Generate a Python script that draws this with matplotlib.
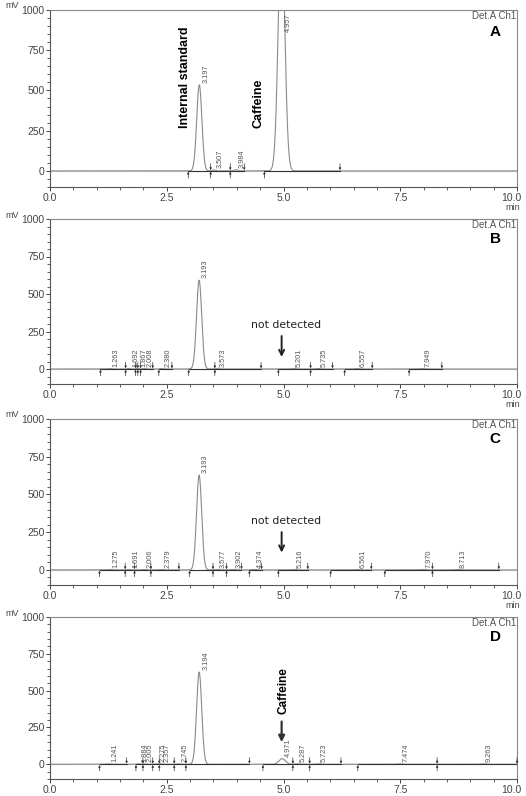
import numpy as np
import matplotlib
matplotlib.use("Agg")
import matplotlib.pyplot as plt
from matplotlib.ticker import MultipleLocator

plt.rcParams['font.family'] = ['Liberation Sans', 'DejaVu Sans']

# ---------------- data (retention time in min, height in mV) ----------------
# Panel A
a_rt = [3.197, 3.507, 3.984, 4.957]
a_h = [535, 6, 8, 1500]
a_w = [0.055, 0.03, 0.03, 0.07]
a_seg_start = [2.96, 3.44, 3.86, 4.59]
a_seg_end = [3.44, 3.86, 4.16, 6.21]

# Panel B
b_rt = [1.263, 1.692, 1.867, 2.008, 2.380, 3.193, 3.573, 5.201, 5.735, 6.557, 7.949]
b_h = [3, 3, 3, 3, 3, 592, 3, 3, 3, 3, 3]
b_w = [0.04, 0.03, 0.03, 0.03, 0.04, 0.055, 0.04, 0.05, 0.05, 0.05, 0.05]
b_seg_start = [1.08, 1.62, 1.83, 1.88, 1.94, 2.33, 2.97, 3.53, 4.89, 5.58, 6.31, 7.69]
b_seg_end = [1.62, 1.83, 1.88, 1.94, 2.20, 2.61, 3.53, 4.52, 5.58, 6.05, 6.90, 8.39]

# Panel C
c_rt = [1.275, 1.691, 2.006, 2.379, 3.193, 3.577, 3.902, 4.374, 5.216, 6.561, 7.970, 8.713]
c_h = [3, 3, 3, 3, 628, 3, 3, 3, 3, 3, 3, 3]
c_w = [0.04, 0.03, 0.03, 0.04, 0.055, 0.04, 0.04, 0.04, 0.05, 0.05, 0.05, 0.05]
c_seg_start = [1.06, 1.61, 1.81, 2.16, 2.99, 3.49, 3.78, 4.27, 4.89, 6.01, 7.17, 8.19]
c_seg_end = [1.61, 1.81, 2.16, 2.76, 3.49, 3.78, 4.10, 4.53, 5.52, 6.88, 8.19, 9.61]

# Panel D
d_rt = [1.241, 1.884, 2.005, 2.275, 2.357, 2.745, 3.194, 4.971, 5.287, 5.723, 7.474, 9.263]
d_h = [3, 3, 3, 3, 3, 3, 626, 38, 3, 3, 3, 3]
d_w = [0.04, 0.03, 0.03, 0.03, 0.03, 0.04, 0.055, 0.07, 0.05, 0.05, 0.05, 0.05]
d_seg_start = [1.06, 1.84, 1.99, 2.20, 2.34, 2.66, 2.91, 4.56, 5.20, 5.56, 6.59, 8.29]
d_seg_end = [1.64, 1.99, 2.20, 2.34, 2.66, 2.91, 4.27, 5.20, 5.56, 6.23, 8.29, 10.0]

panel_letters = ["A", "B", "C", "D"]
x_ticks = [0.0, 2.5, 5.0, 7.5, 10.0]
x_tick_labels = ["0.0", "2.5", "5.0", "7.5", "10.0"]
y_ticks = [0, 250, 500, 750, 1000]

# ---------------- figure ----------------
W, H = 526, 796
fig = plt.figure(figsize=(W / 100, H / 100), dpi=100)

boxes = [(10, 187), (219, 384), (419, 585), (617, 779)]
left_px, right_px = 50, 517

panels = [
    (a_rt, a_h, a_w, a_seg_start, a_seg_end),
    (b_rt, b_h, b_w, b_seg_start, b_seg_end),
    (c_rt, c_h, c_w, c_seg_start, c_seg_end),
    (d_rt, d_h, d_w, d_seg_start, d_seg_end),
]

t = np.linspace(0, 10, 4000)
tick_col = "#444444"
axes = []
for i, ((top, bot), (rt, hh, ww, ss, se)) in enumerate(zip(boxes, panels)):
    ax = fig.add_axes([left_px / W, 1 - bot / H, (right_px - left_px) / W, (bot - top) / H])
    axes.append(ax)
    ax.set_xlim(0, 10)
    ax.set_ylim(-100, 1000)
    y = np.zeros_like(t)
    for r, h, w in zip(rt, hh, ww):
        y += h * np.exp(-0.5 * ((t - r) / w) ** 2)
    ax.axhline(0, color="#c8c8c8", lw=0.8, zorder=1)
    ax.plot(t, y, color="#8a8a8a", lw=0.8, zorder=2, clip_on=True)
    # integration baselines and markers
    for s, e in zip(ss, se):
        ax.plot([s, e], [0, 0], color="#333333", lw=0.8, zorder=3)
        ax.annotate("", xy=(s, -5), xytext=(s, -45),
                    arrowprops=dict(arrowstyle="-|>", lw=0.5, color="#333333",
                                    mutation_scale=3, shrinkA=0, shrinkB=0))
        ax.annotate("", xy=(e, 5), xytext=(e, 45),
                    arrowprops=dict(arrowstyle="-|>", lw=0.5, color="#333333",
                                    mutation_scale=3, shrinkA=0, shrinkB=0))
    # peak labels
    for r, h in zip(rt, hh):
        yl = max(h, 0) + 12
        if yl + 130 > 1000:
            yl = 1000 - 135
        ax.text(r + 0.14, yl, f"{r:.3f}", rotation=90, ha="center", va="bottom",
                fontsize=5.3, color="#555555", zorder=4)
    # axes style
    for sp in ["top", "right"]:
        ax.spines[sp].set_color("#888888")
        ax.spines[sp].set_linewidth(0.8)
    for sp in ["left", "bottom"]:
        ax.spines[sp].set_color("#555555")
        ax.spines[sp].set_linewidth(0.8)
    ax.set_xticks(x_ticks)
    ax.set_xticklabels(x_tick_labels)
    ax.set_yticks(y_ticks)
    ax.xaxis.set_minor_locator(MultipleLocator(0.5))
    ax.yaxis.set_minor_locator(MultipleLocator(50))
    ax.tick_params(axis="both", which="major", direction="out", length=3, width=0.7,
                   colors=tick_col, labelsize=7.5, pad=1)
    ax.tick_params(axis="both", which="minor", direction="out", length=2.5, width=0.6,
                   colors=tick_col)
    ax.tick_params(axis="y", which="both", right=False)
    ax.tick_params(axis="x", which="both", top=False)
    # keep the last x tick label inside the figure
    lbls = ax.get_xticklabels()
    lbls[-1].set_horizontalalignment("right")
    lbls[-1].set_x(10.0)
    ax.text(0.999, 0.995, "Det.A Ch1", transform=ax.transAxes, ha="right", va="top",
            fontsize=7, color="#555555")
    ax.text(9.53, 865, panel_letters[i], ha="center", va="center",
            fontsize=11, fontweight="bold", color="black")
    fig.text(5 / W, 1 - (top - 4) / H, "mV", ha="left", va="center", fontsize=6.5, color="#444444")
    if i < 3:
        fig.text((right_px + 3) / W, 1 - (bot + 21) / H, "min", ha="right", va="center",
                 fontsize=6.5, color="#444444")

for ax in axes:
    for lbl in ax.get_xticklabels():
        if lbl.get_text() == "10.0":
            lbl.set_horizontalalignment("center")
            lbl.set_transform(lbl.get_transform() + matplotlib.transforms.ScaledTranslation(-6 / 100, 0, fig.dpi_scale_trans))

bold_kw = dict(rotation=90, fontweight="bold", color="black",
               family=["Liberation Sans Narrow", "Liberation Sans", "DejaVu Sans"])

# Panel A annotations
axes[0].text(2.89, 267, "Internal standard", ha="center", va="bottom", fontsize=9, **bold_kw)
axes[0].text(4.46, 267, "Caffeine", ha="center", va="bottom", fontsize=9, **bold_kw)

# Panels B and C: not detected
for ax, ty, a0, a1 in [(axes[1], 295, 220, 80), (axes[2], 325, 250, 115)]:
    ax.text(5.05, ty, "not detected", ha="center", va="center", fontsize=7.8,
            family=["DejaVu Sans"], color="#222222")
    ax.annotate("", xy=(4.96, a1), xytext=(4.96, a0),
                arrowprops=dict(arrowstyle="->", lw=1.4, color="#222222",
                                mutation_scale=9, shrinkA=0, shrinkB=0))

# Panel D caffeine
axes[3].text(5.0, 340, "Caffeine", ha="center", va="bottom", fontsize=8.5, **bold_kw)
axes[3].annotate("", xy=(4.96, 150), xytext=(4.96, 290),
                 arrowprops=dict(arrowstyle="-|>", lw=1.6, color="#333333",
                                 mutation_scale=9, shrinkA=0, shrinkB=0))

fig.savefig("out.png", dpi=100)
